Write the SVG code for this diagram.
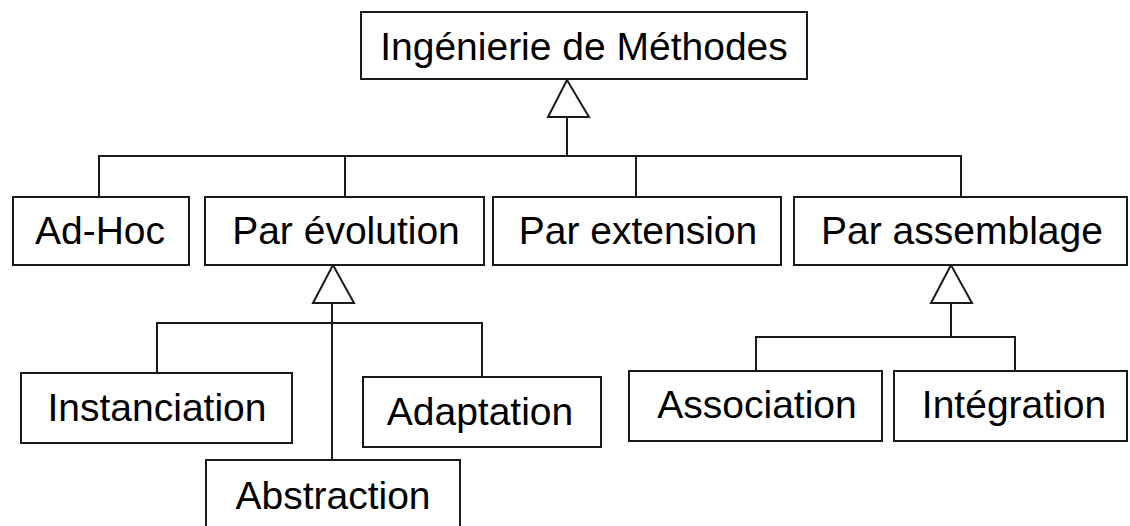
<svg xmlns="http://www.w3.org/2000/svg" width="1130" height="526" viewBox="0 0 1130 526">
<style>
.box{fill:#fff;stroke:#1a1a1a;stroke-width:2}
.ln{fill:none;stroke:#1a1a1a;stroke-width:2}
.tri{fill:#fff;stroke:#1a1a1a;stroke-width:2;stroke-linejoin:miter}
text{font-family:"Liberation Sans",Arial,sans-serif;font-size:39px;fill:#000;text-anchor:middle}
</style>
<rect width="1130" height="526" fill="#fff"/>
<g id="connectors">
<path class="ln" d="M567 117V156M99 197V156H961V197M345 156V197M636 156V197"/>
<polygon class="tri" points="567,80 548,117 589,117"/>
<path class="ln" d="M332 303V460M157 373V323H482V377"/>
<polygon class="tri" points="333,265 313,303 354,303"/>
<path class="ln" d="M951 303V337M756 371V337H1015V371"/>
<polygon class="tri" points="951,265 931,303 972,303"/>
</g>
<g id="n-ingenierie"><rect class="box" x="361" y="12" width="446" height="67"/><text x="584" y="60">Ingénierie de Méthodes</text></g>
<g id="n-adhoc"><rect class="box" x="13" y="197" width="176" height="68"/><text x="100" y="244">Ad-Hoc</text></g>
<g id="n-evolution"><rect class="box" x="205" y="197" width="279" height="68"/><text x="346" y="244">Par évolution</text></g>
<g id="n-extension"><rect class="box" x="493" y="197" width="288" height="68"/><text x="638" y="244">Par extension</text></g>
<g id="n-assemblage"><rect class="box" x="794" y="197" width="333" height="68"/><text x="962" y="244">Par assemblage</text></g>
<g id="n-instanciation"><rect class="box" x="21" y="373" width="271" height="70"/><text x="157" y="421">Instanciation</text></g>
<g id="n-adaptation"><rect class="box" x="363" y="377" width="238" height="70"/><text x="480" y="425">Adaptation</text></g>
<g id="n-abstraction"><rect class="box" x="206" y="460" width="254" height="80"/><text x="333" y="509">Abstraction</text></g>
<g id="n-association"><rect class="box" x="629" y="371" width="253" height="70"/><text x="757" y="418">Association</text></g>
<g id="n-integration"><rect class="box" x="894" y="371" width="233" height="70"/><text x="1014" y="418">Intégration</text></g>
</svg>
